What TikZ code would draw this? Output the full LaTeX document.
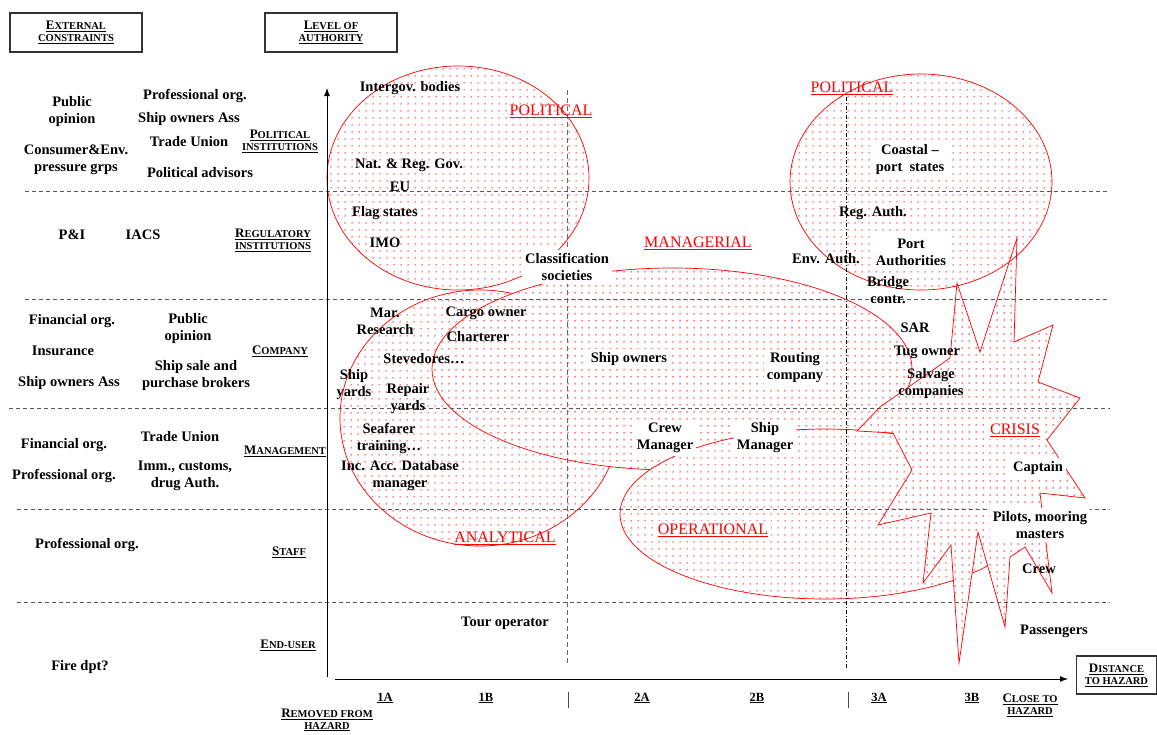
\documentclass[tikz,border=0pt]{standalone}
\usepackage{fontspec}
\setmainfont{Liberation Serif}
\usetikzlibrary{patterns.meta,arrows.meta}

\newcommand\smc[2]{{\fontsize{13}{14.5}\selectfont #1}{\fontsize{10.5}{14.5}\selectfont #2}}

\begin{document}
\begin{tikzpicture}[x=1pt,y=-1pt,
    actor/.style={font=\bfseries\fontsize{14.5}{17}\selectfont, align=center, inner sep=1pt},
    boxed/.style={actor, fill=white, inner sep=3pt},
    zonename/.style={font=\fontsize{16}{18}\selectfont, text=red, inner sep=1pt},
    level/.style={font=\bfseries, align=center, inner sep=1pt},
    hdrbox/.style={level, draw=black!80, line width=1.2pt, minimum width=132pt, minimum height=39pt},
    tick/.style={font=\bfseries\fontsize{12.5}{14}\selectfont, inner sep=1pt},
    zone/.style={draw=red, line width=.7pt, fill=white,
      postaction={pattern={Dots[distance=6.5pt, radius=.8pt]}, pattern color=red}},
    rowline/.style={draw=black!65, line width=.8pt, dash pattern=on 4pt off 3pt},
    colA/.style={draw=black!60, line width=.9pt, dash pattern=on 5pt off 3pt},
    colB/.style={draw=black, line width=.7pt, dash pattern=on 4pt off 2pt on 1pt off 2pt},
    axis/.style={draw=black, line width=1pt, -{Latex[length=8pt,width=6pt]}}]
  \useasboundingbox (0,0) rectangle (1157,734);

  % Zones
  \draw[zone] (480,418) ellipse [x radius=140, y radius=128];
  \draw[zone] (672,369) ellipse [x radius=240, y radius=101];
  \draw[zone] (825,514) ellipse [x radius=205, y radius=85];
  \draw[zone] (880,407) -- (950,358) -- (957,283) -- (980,352) -- (1017,238)
    -- (1014,342) -- (1053,325) -- (1038,382) -- (1080,398) -- (1047,440)
    -- (1085,498) -- (1040,493) -- (1052,593) -- (1025,547) -- (1010,557)
    -- (1005,627) -- (978,532) -- (959,663) -- (951,545) -- (923,583)
    -- (931,513) -- (878,525) -- (912,470) -- (893,433) -- (857,431) -- cycle;
  \draw[zone] (458,178) ellipse [x radius=131, y radius=112];
  \draw[zone, fill=none] (921,182) ellipse [x radius=131, y radius=108];

  % Rows and columns
  \foreach \y/\x in {191/25, 299/25, 408/9, 509/17, 602/17}
    \draw[rowline] (\x,\y) -- (1110,\y);
  \draw[colA] (567,90) -- (567,663);
  \draw[colB] (846,97) -- (846,670);

  % Axes
  \draw[axis] (327,677) -- (327,88);
  \draw[axis] (335,679) -- (1068,679);
  \foreach \x in {568,848}
    \draw[black!70, line width=.8pt] (\x,692) -- (\x,708);
  \foreach \x/\t in {385/1A, 486/1B, 642/2A, 757/2B, 879/3A, 972/3B}
    \node[tick] (t\t) at (\x,698) {\underline{\t}};

  % Headings
  \node[hdrbox] (ext) at (76,32.5) {\underline{\smc{E}{XTERNAL}}\\\underline{\smc{}{CONSTRAINTS}}};
  \node[hdrbox] (auth) at (331,32.5) {\underline{\smc{L}{EVEL OF}}\\\underline{\smc{}{AUTHORITY}}};
  \node[hdrbox, minimum width=80pt, minimum height=38pt] (dist) at (1116.5,675) {\underline{\smc{D}{ISTANCE}}\\\underline{\smc{}{TO HAZARD}}};
  \node[level] (removed) at (327,720) {\underline{\smc{R}{EMOVED FROM}}\\\underline{\smc{}{HAZARD}}};
  \node[level] (close) at (1030,705) {\underline{\smc{C}{LOSE TO}}\\\underline{\smc{}{HAZARD}}};

  \node[level] (rpol) at (280,141) {\underline{\smc{P}{OLITICAL}}\\\underline{\smc{}{INSTITUTIONS}}};
  \node[level] (rreg) at (273,240) {\underline{\smc{R}{EGULATORY}}\\\underline{\smc{}{INSTITUTIONS}}};
  \node[level] (rcomp) at (280,351) {\underline{\smc{C}{OMPANY}}};
  \node[level] (rman) at (285,451) {\underline{\smc{M}{ANAGEMENT}}};
  \node[level] (rstaff) at (289,552) {\underline{\smc{S}{TAFF}}};
  \node[level] (rend) at (288,645) {\underline{\smc{E}{ND-USER}}};

  % External constraints
  \node[actor] (pubopA) at (72,112) {Public\\opinion};
  \node[actor] (proforgA) at (195,96) {Professional org.};
  \node[actor] (shipassA) at (189,119) {Ship owners Ass};
  \node[actor] (tradeA) at (189,142) {Trade Union};
  \node[actor] (consumer) at (76,160) {Consumer\&Env.\\pressure grps};
  \node[actor] (poladv) at (200,173) {Political advisors};
  \node[actor] (pandi) at (72,235) {P\&I};
  \node[actor] (iacs) at (143,235) {IACS};
  \node[actor] (finA) at (72,321) {Financial org.};
  \node[actor] (pubopB) at (188,329) {Public\\opinion};
  \node[actor] (insur) at (63,351) {Insurance};
  \node[actor] (shipsale) at (196,376) {Ship sale and\\purchase brokers};
  \node[actor] (shipassB) at (69,383) {Ship owners Ass};
  \node[actor] (finB) at (64,445) {Financial org.};
  \node[actor] (tradeB) at (180,437) {Trade Union};
  \node[actor] (proforgB) at (64,476) {Professional org.};
  \node[actor] (imm) at (185,476) {Imm., customs,\\drug Auth.};
  \node[actor] (proforgC) at (87,545) {Professional org.};
  \node[actor] (fire) at (80,667) {Fire dpt?};

  % Actors by level and distance
  \node[actor] (intergov) at (410,88) {Intergov. bodies};
  \node[actor] (natgov) at (409,165) {Nat. \& Reg. Gov.};
  \node[actor] (eu) at (400,187) {EU};
  \node[actor] (flag) at (385,213) {Flag states};
  \node[actor] (imo) at (385,243) {IMO};
  \node[boxed] (classif) at (567,267) {Classification\\societies};
  \node[boxed] (coastal) at (910,160) {Coastal --\\port\ \ states};
  \node[actor] (regauth) at (873,213) {Reg. Auth.};
  \node[boxed] (port) at (911,252) {Port\\Authorities};
  \node[actor] (envauth) at (826,259) {Env. Auth.};
  \node[actor] (bridge) at (888,290) {Bridge\\contr.};
  \node[actor] (mar) at (385,321) {Mar.\\Research};
  \node[actor] (cargo) at (486,313) {Cargo owner};
  \node[actor] (charter) at (478,337) {Charterer};
  \node[actor] (steve) at (424,359) {Stevedores\ldots};
  \node[boxed] (shipown) at (629,359) {Ship owners};
  \node[boxed] (routing) at (795,368) {Routing\\company};
  \node[actor] (sar) at (915,328) {SAR};
  \node[actor] (tug) at (927,352) {Tug owner};
  \node[actor] (salvage) at (931,384) {Salvage\\companies};
  \node[actor] (yardsA) at (354,385) {Ship\\yards};
  \node[actor] (yardsB) at (408,399) {Repair\\yards};
  \node[actor] (seafarer) at (389,438) {Seafarer\\training\ldots};
  \node[actor] (incacc) at (400,476) {Inc. Acc. Database\\manager};
  \node[boxed] (crewman) at (665,438) {Crew\\Manager};
  \node[boxed] (shipman) at (765,438) {Ship\\Manager};
  \node[boxed] (captain) at (1038,468) {Captain};
  \node[boxed] (pilots) at (1040,525) {Pilots, mooring\\masters};
  \node[actor] (crew) at (1039,569) {Crew};
  \node[actor] (tour) at (505,623) {Tour operator};
  \node[actor] (pass) at (1054,631) {Passengers};

  % Zone names
  \node[zonename] (polL) at (551,111) {\underline{POLITICAL}};
  \node[zonename] (polR) at (852,88) {\underline{POLITICAL}};
  \node[zonename] (manag) at (698,243) {\underline{MANAGERIAL}};
  \node[zonename] (analyt) at (505,538) {\underline{ANALYTICAL}};
  \node[zonename, fill=white, inner sep=3pt] (operat) at (713,530) {\underline{OPERATIONAL}};
  \node[zonename, fill=white, inner sep=3pt] (crisis) at (1015,430) {\underline{CRISIS}};
\end{tikzpicture}
\end{document}
